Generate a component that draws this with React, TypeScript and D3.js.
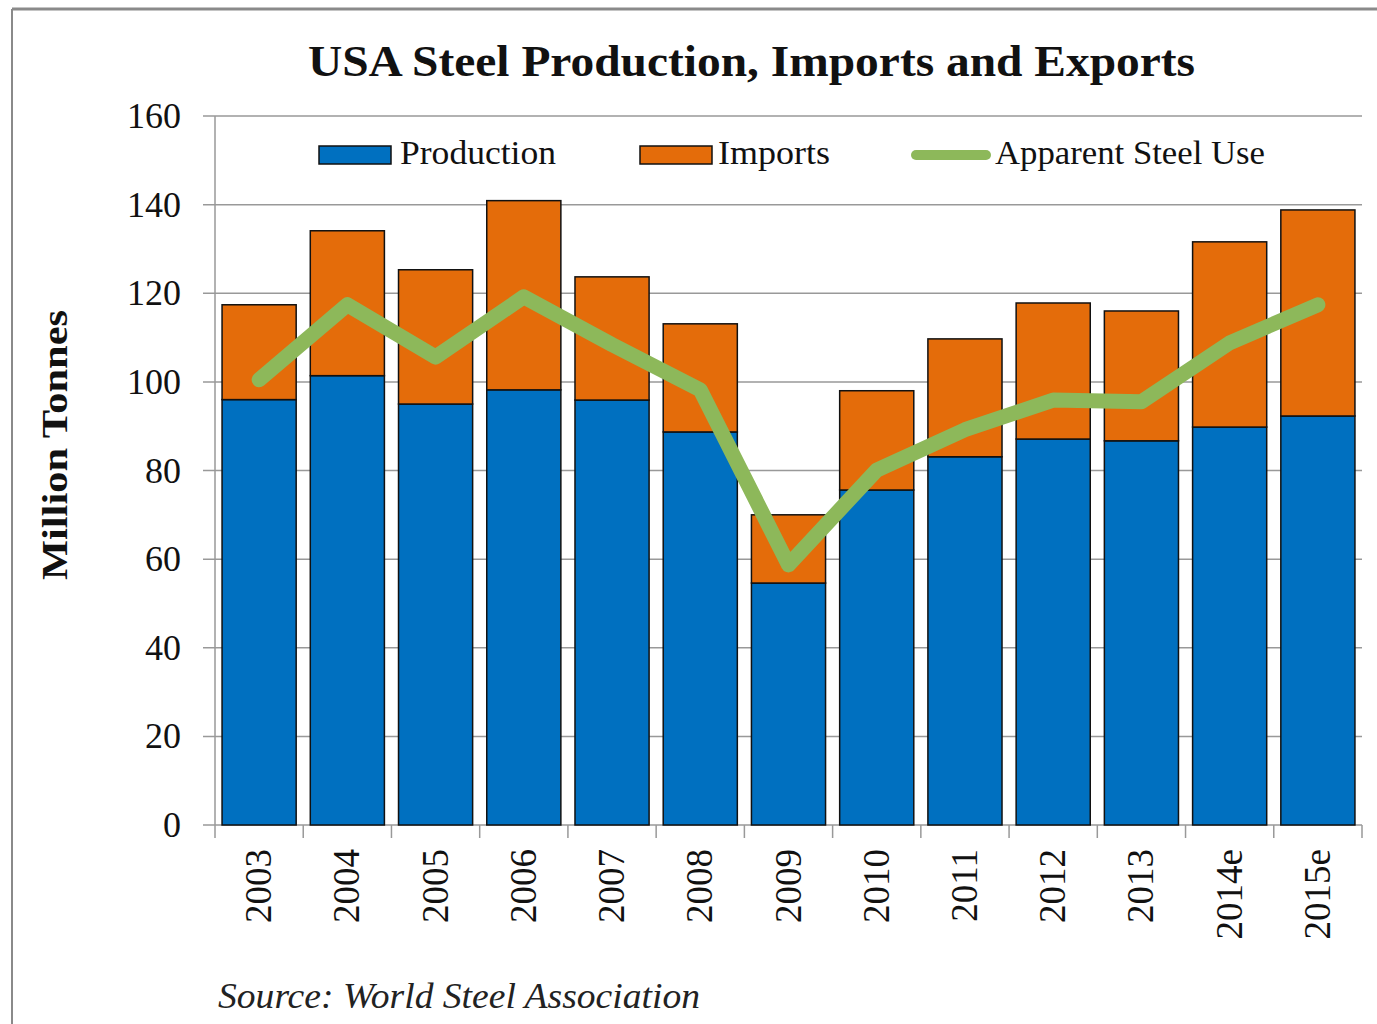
import React from "react";
import * as d3 from "d3";

const years = ["2003", "2004", "2005", "2006", "2007", "2008", "2009", "2010", "2011", "2012", "2013", "2014e", "2015e"];
const production = [96, 101.4, 95, 98.2, 95.9, 88.7, 54.6, 75.6, 83.1, 87.1, 86.7, 89.8, 92.3];
const imports = [21.4, 32.7, 30.3, 42.7, 27.8, 24.4, 15.4, 22.4, 26.6, 30.7, 29.3, 41.8, 46.5];
const apparentUse = [100.5, 117.4, 105.6, 119.2, 108.4, 98.2, 58.7, 80.1, 89.2, 95.9, 95.5, 108.8, 117.4];
const yTicks = [0, 20, 40, 60, 80, 100, 120, 140, 160];

const W = 1377;
const H = 1024;
const left = 215;
const right = 1362;
const top = 116;
const bottom = 825;

const BLUE = "#0070C0";
const ORANGE = "#E46C0A";
const GREEN = "#8DB85A";
const serif = "'Liberation Serif', 'DejaVu Serif', serif";

export default function App() {
  const x = d3.scaleBand<string>().domain(years).range([left, right]).paddingInner(0.16).paddingOuter(0.08);
  const y = d3.scaleLinear().domain([0, 160]).range([bottom, top]);
  const step = (right - left) / years.length;
  const line = d3
    .line<number>()
    .x((_, i) => (x(years[i]) as number) + x.bandwidth() / 2)
    .y((d) => y(d));

  return (
    <svg width={W} height={H} style={{ display: "block", position: "absolute", left: 0, top: 0 }}>
      <rect x={0} y={0} width={W} height={H} fill="#fff" />
      {/* frame */}
      <line x1={12} x2={W} y1={9} y2={9} stroke="#8a8a8a" strokeWidth={3} />
      <line x1={12} x2={12} y1={9} y2={H} stroke="#8a8a8a" strokeWidth={2} />

      <text x={308} y={76} fontFamily={serif} fontWeight="bold" fontSize={44} fill="#111" textLength={887} lengthAdjust="spacingAndGlyphs">
        USA Steel Production, Imports and Exports
      </text>

      {/* gridlines */}
      {yTicks.map((t) => (
        <g key={t}>
          <line x1={203} x2={right} y1={y(t)} y2={y(t)} stroke="#999" strokeWidth={1.5} />
          <text x={181} y={y(t) + 12} textAnchor="end" fontFamily={serif} fontSize={36} fill="#111">
            {t}
          </text>
        </g>
      ))}
      <line x1={left} x2={left} y1={top} y2={bottom} stroke="#999" strokeWidth={1.5} />

      {/* x ticks */}
      {d3.range(years.length + 1).map((i) => (
        <line key={i} x1={left + i * step} x2={left + i * step} y1={bottom} y2={bottom + 13} stroke="#999" strokeWidth={1.5} />
      ))}

      {/* bars */}
      {years.map((yr, i) => {
        const bx = x(yr) as number;
        const bw = x.bandwidth();
        return (
          <g key={yr}>
            <rect x={bx} y={y(production[i])} width={bw} height={y(0) - y(production[i])} fill={BLUE} stroke="#111" strokeWidth={1.5} />
            <rect
              x={bx}
              y={y(production[i] + imports[i])}
              width={bw}
              height={y(production[i]) - y(production[i] + imports[i])}
              fill={ORANGE}
              stroke="#111"
              strokeWidth={1.5}
            />
          </g>
        );
      })}

      <path d={line(apparentUse) || ""} fill="none" stroke={GREEN} strokeWidth={15} strokeLinejoin="round" strokeLinecap="round" />

      {/* x labels */}
      {years.map((yr) => {
        const cx = (x(yr) as number) + x.bandwidth() / 2;
        return (
          <text
            key={yr}
            transform={`translate(${cx + 12},${849}) rotate(-90)`}
            textAnchor="end"
            fontFamily={serif}
            fontSize={37}
            fill="#111"
          >
            {yr}
          </text>
        );
      })}

      {/* legend */}
      <rect x={319} y={146} width={72} height={18} fill={BLUE} stroke="#111" strokeWidth={1.5} />
      <text x={400} y={164} fontFamily={serif} fontSize={33} fill="#111" textLength={156} lengthAdjust="spacingAndGlyphs">Production</text>
      <rect x={640} y={146} width={72} height={18} fill={ORANGE} stroke="#111" strokeWidth={1.5} />
      <text x={718} y={164} fontFamily={serif} fontSize={33} fill="#111" textLength={112} lengthAdjust="spacingAndGlyphs">Imports</text>
      <line x1={916} x2={986} y1={155} y2={155} stroke={GREEN} strokeWidth={10} strokeLinecap="round" />
      <text x={995} y={164} fontFamily={serif} fontSize={33} fill="#111" textLength={270} lengthAdjust="spacingAndGlyphs">Apparent Steel Use</text>

      {/* y axis title */}
      <text transform="translate(67,445) rotate(-90)" textAnchor="middle" fontFamily={serif} fontWeight="bold" fontSize={36} fill="#111" textLength={270} lengthAdjust="spacingAndGlyphs">
        Million Tonnes
      </text>

      <text x={218} y={1008} fontFamily={serif} fontStyle="italic" fontSize={36} fill="#222" textLength={482} lengthAdjust="spacingAndGlyphs">
        Source: World Steel Association
      </text>
    </svg>
  );
}
